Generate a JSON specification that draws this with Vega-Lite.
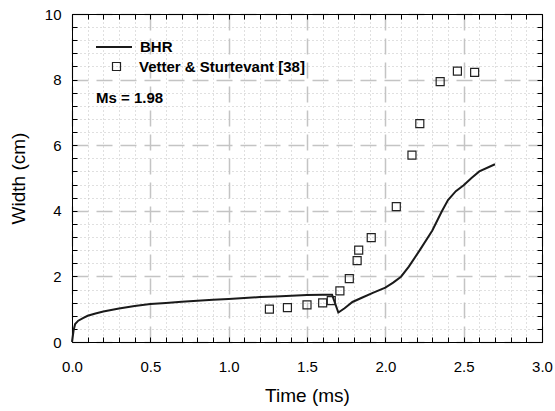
{
  "$schema": "https://vega.github.io/schema/vega-lite/v6.json",
  "width": 470,
  "height": 328,
  "autosize": "none",
  "padding": {"left": 72, "top": 14, "right": 13, "bottom": 69},
  "background": "white",
  "config": {
    "view": {"stroke": null},
    "font": "Liberation Sans",
    "axis": {"labelFont": "Liberation Sans", "titleFont": "Liberation Sans", "labelColor": "#000", "titleColor": "#000", "domainColor": "#000", "tickColor": "#000", "titleFontWeight": "normal"}
  },
  "datasets": {
    "bhr": [
      {"t": 0.0, "w": 0.0}, {"t": 0.01, "w": 0.35}, {"t": 0.02, "w": 0.55}, {"t": 0.04, "w": 0.65},
      {"t": 0.07, "w": 0.73}, {"t": 0.1, "w": 0.8}, {"t": 0.15, "w": 0.87}, {"t": 0.2, "w": 0.93},
      {"t": 0.3, "w": 1.02}, {"t": 0.4, "w": 1.1}, {"t": 0.5, "w": 1.16}, {"t": 0.6, "w": 1.19},
      {"t": 0.7, "w": 1.23}, {"t": 0.8, "w": 1.26}, {"t": 0.9, "w": 1.29}, {"t": 1.0, "w": 1.31},
      {"t": 1.1, "w": 1.34}, {"t": 1.2, "w": 1.37}, {"t": 1.3, "w": 1.39}, {"t": 1.4, "w": 1.41},
      {"t": 1.5, "w": 1.43}, {"t": 1.6, "w": 1.44}, {"t": 1.66, "w": 1.44}, {"t": 1.7, "w": 0.9},
      {"t": 1.74, "w": 1.03}, {"t": 1.79, "w": 1.22}, {"t": 1.85, "w": 1.35}, {"t": 1.92, "w": 1.5},
      {"t": 2.0, "w": 1.66}, {"t": 2.05, "w": 1.81}, {"t": 2.1, "w": 1.99}, {"t": 2.15, "w": 2.3},
      {"t": 2.22, "w": 2.8}, {"t": 2.3, "w": 3.4}, {"t": 2.36, "w": 3.98}, {"t": 2.4, "w": 4.33},
      {"t": 2.45, "w": 4.6}, {"t": 2.5, "w": 4.78}, {"t": 2.55, "w": 5.0}, {"t": 2.6, "w": 5.2},
      {"t": 2.7, "w": 5.42}
    ],
    "vetter": [
      {"t": 1.26, "w": 1.0}, {"t": 1.375, "w": 1.05}, {"t": 1.5, "w": 1.13}, {"t": 1.6, "w": 1.19},
      {"t": 1.655, "w": 1.26}, {"t": 1.71, "w": 1.56}, {"t": 1.77, "w": 1.93}, {"t": 1.82, "w": 2.48},
      {"t": 1.83, "w": 2.8}, {"t": 1.91, "w": 3.18}, {"t": 2.07, "w": 4.13}, {"t": 2.17, "w": 5.7},
      {"t": 2.22, "w": 6.66}, {"t": 2.35, "w": 7.94}, {"t": 2.46, "w": 8.26}, {"t": 2.57, "w": 8.22}
    ]
  },
  "resolve": {"axis": {"x": "independent", "y": "independent"}},
  "layer": [
    {
      "data": {"name": "bhr"},
      "transform": [{"calculate": "'BHR'", "as": "series"}],
      "mark": {"type": "line", "strokeWidth": 2, "color": "#1a1a1a"},
      "encoding": {
        "x": {
          "field": "t", "type": "quantitative",
          "scale": {"domain": [0, 3], "nice": false, "zero": false},
          "axis": {
            "orient": "bottom",
            "title": "Time (ms)", "titleFontSize": 19, "titlePadding": 12,
            "values": [0,0.1,0.2,0.3,0.4,0.5,0.6,0.7,0.8,0.9,1,1.1,1.2,1.3,1.4,1.5,1.6,1.7,1.8,1.9,2,2.1,2.2,2.3,2.4,2.5,2.6,2.7,2.8,2.9,3],
            "labelExpr": "abs(round(datum.value*10)%5)==0 ? format(datum.value,'.1f') : ''",
            "labelFontSize": 15, "labelPadding": 22, "labelFlush": false, "labelOverlap": false,
            "tickSize": -5, "tickWidth": 1, "domainWidth": 1,
            "grid": true,
            "gridColor": {"condition": {"test": "abs(round(datum.value*10)%5)==0", "value": "#c4c4c4"}, "value": "#c0c0c0"},
            "gridDash": {"condition": {"test": "abs(round(datum.value*10)%5)==0", "value": [16, 8]}, "value": [1, 3]},
            "gridWidth": {"condition": {"test": "abs(round(datum.value*10)%5)==0", "value": 1.5}, "value": 1}
          }
        },
        "y": {
          "field": "w", "type": "quantitative",
          "scale": {"domain": [0, 10], "nice": false},
          "axis": {
            "orient": "left",
            "title": "Width (cm)", "titleFontSize": 19, "titlePadding": 16,
            "values": [0,0.4,0.8,1.2,1.6,2,2.4,2.8,3.2,3.6,4,4.4,4.8,5.2,5.6,6,6.4,6.8,7.2,7.6,8,8.4,8.8,9.2,9.6,10],
            "labelExpr": "abs(round(datum.value*10)%20)==0 ? format(datum.value,'d') : ''",
            "labelFontSize": 15, "labelPadding": 16, "labelFlush": false, "labelOverlap": false,
            "tickSize": -5, "tickWidth": 1, "domainWidth": 1,
            "grid": true,
            "gridColor": {"condition": {"test": "abs(round(datum.value*10)%20)==0", "value": "#c4c4c4"}, "value": "#c0c0c0"},
            "gridDash": {"condition": {"test": "abs(round(datum.value*10)%20)==0", "value": [16, 8]}, "value": [1, 3]},
            "gridWidth": {"condition": {"test": "abs(round(datum.value*10)%20)==0", "value": 1.5}, "value": 1}
          }
        },
        "color": {
          "field": "series", "type": "nominal",
          "scale": {"domain": ["BHR"], "range": ["#1a1a1a"]},
          "legend": {
            "orient": "none", "legendX": 23, "legendY": 14, "title": null,
            "symbolType": "stroke", "symbolSize": 1296, "symbolStrokeWidth": 2,
            "labelFontSize": 15, "labelFontWeight": "bold", "labelFont": "Liberation Sans", "labelColor": "#000",
            "labelOffset": 7, "labelLimit": 400, "padding": 0
          }
        }
      }
    },
    {
      "data": {"name": "vetter"},
      "transform": [{"calculate": "'Vetter & Sturtevant [38]'", "as": "series2"}],
      "mark": {"type": "point", "filled": false, "color": "#222", "strokeWidth": 1.2, "size": 64, "opacity": 1},
      "encoding": {
        "x": {
          "field": "t", "type": "quantitative",
          "axis": {
            "orient": "top", "title": null, "labels": false, "grid": false,
            "values": [0,0.1,0.2,0.3,0.4,0.5,0.6,0.7,0.8,0.9,1,1.1,1.2,1.3,1.4,1.5,1.6,1.7,1.8,1.9,2,2.1,2.2,2.3,2.4,2.5,2.6,2.7,2.8,2.9,3],
            "tickSize": -5, "tickWidth": 1, "domainWidth": 1
          }
        },
        "y": {
          "field": "w", "type": "quantitative",
          "axis": {
            "orient": "right", "title": null, "labels": false, "grid": false,
            "values": [0,0.4,0.8,1.2,1.6,2,2.4,2.8,3.2,3.6,4,4.4,4.8,5.2,5.6,6,6.4,6.8,7.2,7.6,8,8.4,8.8,9.2,9.6,10],
            "tickSize": -5, "tickWidth": 1, "domainWidth": 1
          }
        },
        "shape": {
          "field": "series2", "type": "nominal",
          "scale": {"domain": ["Vetter & Sturtevant [38]"], "range": ["square"]},
          "legend": {
            "orient": "none", "legendX": 37, "legendY": 45, "title": null,
            "symbolSize": 64, "symbolStrokeWidth": 1.2, "symbolStrokeColor": "#222", "symbolFillColor": "transparent",
            "labelFontSize": 15, "labelFontWeight": "bold", "labelFont": "Liberation Sans", "labelColor": "#000",
            "labelOffset": 15, "labelLimit": 400, "padding": 0
          }
        }
      }
    },
    {
      "data": {"values": [{"t": 0.153, "w": 7.45, "label": "Ms = 1.98"}]},
      "mark": {"type": "text", "align": "left", "baseline": "middle", "fontSize": 15, "fontWeight": "bold", "font": "Liberation Sans", "color": "#000"},
      "encoding": {
        "x": {"field": "t", "type": "quantitative", "axis": null},
        "y": {"field": "w", "type": "quantitative", "axis": null},
        "text": {"field": "label"}
      }
    }
  ]
}
